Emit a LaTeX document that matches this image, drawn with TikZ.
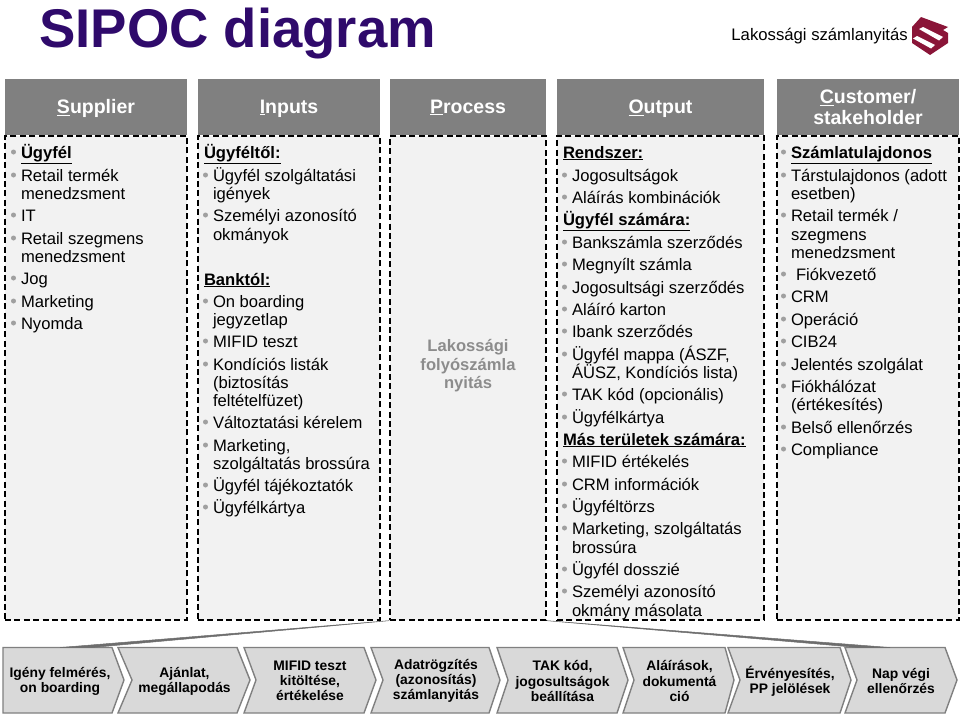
\documentclass[tikz,border=0pt]{standalone}
\usepackage{fontspec}
\setmainfont{Liberation Sans}
\definecolor{titlec}{HTML}{2F0A6B}
\definecolor{hdrc}{HTML}{808080}
\definecolor{bodyc}{HTML}{F2F2F2}
\definecolor{chevc}{HTML}{D9D9D9}
\definecolor{bulc}{HTML}{A0A0A0}
\definecolor{logoc}{HTML}{8A1538}
\newcounter{tn}
\newcommand{\bodyfont}{\fontsize{16.6}{18}\selectfont}
\newcommand{\txtline}[3]{\stepcounter{tn}\node[txt] (t\arabic{tn}) at (#1,#2+6) {#3};}
\newcommand{\blt}[3]{\fill[bulc] (#1-7.5,#2) circle (2.5pt);\txtline{#1}{#2}{#3}}
\newcommand{\hdg}[3]{\txtline{#1}{#2}{\textbf{\underline{#3}}}}
\newcommand{\chev}[6]{% left notch shoulder tip name text
  \path[chevst] (#1,647.5) -- (#3,647.5) -- (#4,680) -- (#3,713) -- (#1,713) -- (#2,680) -- cycle;
  \node[chevt] (#5) at ({(#2+#3)/2},681) {#6};}
\tikzset{
  txt/.style={anchor=base west,inner sep=0pt,outer sep=0pt,font=\bodyfont,text=black},
  hdr/.style={fill=hdrc,inner sep=0pt,minimum height=56pt,text=white,
    font=\fontsize{19.5}{21}\selectfont\bfseries},
  hdrone/.style={hdr,text height=16pt,text depth=3.5pt},
  bodybox/.style={fill=bodyc,draw=black,line width=1.3pt,dash pattern=on 6pt off 3.4pt,inner sep=0pt,minimum height=484pt},
  chevst/.style={fill=chevc,draw=hdrc,line width=1.4pt,line join=miter},
  chevt/.style={inner sep=0pt,align=center,text=black,font=\fontsize{13.85}{15.2}\selectfont\bfseries},
  wedge/.style={fill=hdrc!85!black,draw=hdrc!85!black,line width=.5pt}
}
\begin{document}
\begin{tikzpicture}[x=1pt,y=-1pt]
\useasboundingbox (0,0) rectangle (960,716);
\node[anchor=base west,inner sep=0pt,text=titlec,font=\fontsize{54.5}{60}\selectfont\bfseries] (title) at (39,47) {SIPOC diagram};
\node[anchor=base east,inner sep=0pt,font=\fontsize{16.7}{18}\selectfont] (sub) at (908,40) {Lakossági számlanyitás};
% logo
\fill[logoc] (921,17) -- (948,27) -- (943,30) -- (948,33) -- (948,43) -- (930,55) -- (912,43) -- (912,27) -- cycle;
\fill[white] (919,29) -- (923,27) -- (943,37) -- (939,40.5) -- cycle;
\fill[white] (913,38.5) -- (917,36) -- (935,45) -- (931,48.5) -- cycle;
% headers
\node[hdrone,minimum width=182pt] (hS) at (96,107) {\underline{S}upplier};
\node[hdrone,minimum width=182pt] (hI) at (289,107) {\underline{I}nputs};
\node[hdrone,minimum width=156pt] (hP) at (468,107) {\underline{P}rocess};
\node[hdrone,minimum width=207pt] (hO) at (660.5,107) {\underline{O}utput};
\node[hdr,align=center,minimum width=182pt] (hC) at (868,107) {\underline{C}ustomer/\\stakeholder};
% bodies
\node[bodybox,minimum width=182pt] (bS) at (96,378) {};
\node[bodybox,minimum width=182pt] (bI) at (289,378) {};
\node[bodybox,minimum width=156pt] (bP) at (468,378) {};
\node[bodybox,minimum width=207pt] (bO) at (660.5,378) {};
\node[bodybox,minimum width=182pt] (bC) at (868,378) {};
% supplier
\blt{21}{152}{\textbf{\underline{Ügyfél}}}
\blt{21}{175}{Retail termék}
\txtline{21}{193}{menedzsment}
\blt{21}{215}{IT}
\blt{21}{238}{Retail szegmens}
\txtline{21}{256}{menedzsment}
\blt{21}{278}{Jog}
\blt{21}{301}{Marketing}
\blt{21}{323}{Nyomda}
% inputs
\hdg{204}{152}{Ügyféltől:}
\blt{213}{175}{Ügyfél szolgáltatási}
\txtline{213}{193}{igények}
\blt{213}{215}{Személyi azonosító}
\txtline{213}{234}{okmányok}
\hdg{204}{279}{Banktól:}
\blt{213}{301}{On boarding}
\txtline{213}{319}{jegyzetlap}
\blt{213}{341}{MIFID teszt}
\blt{213}{364}{Kondíciós listák}
\txtline{213}{382}{(biztosítás}
\txtline{213}{400}{feltételfüzet)}
\blt{213}{422}{Változtatási kérelem}
\blt{213}{445}{Marketing,}
\txtline{213}{463}{szolgáltatás brossúra}
\blt{213}{485}{Ügyfél tájékoztatók}
\blt{213}{507}{Ügyfélkártya}
% process
\node[inner sep=0pt,align=center,text=black!45,font=\fontsize{16.6}{18.5}\selectfont\bfseries] (proc) at (468,366) {Lakossági\\folyószámla\\nyitás};
% output
\hdg{563}{152}{Rendszer:}
\blt{572}{175}{Jogosultságok}
\blt{572}{197}{Aláírás kombinációk}
\hdg{563}{219}{Ügyfél számára:}
\blt{572}{242}{Bankszámla szerződés}
\blt{572}{264}{Megnyílt számla}
\blt{572}{287}{Jogosultsági szerződés}
\blt{572}{309}{Aláíró karton}
\blt{572}{331}{Ibank szerződés}
\blt{572}{354}{Ügyfél mappa (ÁSZF,}
\txtline{572}{372}{ÁÜSZ, Kondíciós lista)}
\blt{572}{394}{TAK kód (opcionális)}
\blt{572}{417}{Ügyfélkártya}
\hdg{563}{439}{Más területek számára:}
\blt{572}{461}{MIFID értékelés}
\blt{572}{484}{CRM információk}
\blt{572}{506}{Ügyféltörzs}
\blt{572}{528}{Marketing, szolgáltatás}
\txtline{572}{547}{brossúra}
\blt{572}{569}{Ügyfél dosszié}
\blt{572}{591}{Személyi azonosító}
\txtline{572}{610}{okmány másolata}
% customer
\blt{791}{152}{\textbf{\underline{Számlatulajdonos}}}
\blt{791}{175}{Társtulajdonos (adott}
\txtline{791}{193}{esetben)}
\blt{791}{215}{Retail termék /}
\txtline{791}{234}{szegmens}
\txtline{791}{252}{menedzsment}
\fill[bulc] (783.5,274) circle (2.5pt);\txtline{796}{274}{Fiókvezető}
\blt{791}{296}{CRM}
\blt{791}{319}{Operáció}
\blt{791}{341}{CIB24}
\blt{791}{364}{Jelentés szolgálat}
\blt{791}{386}{Fiókhálózat}
\txtline{791}{404}{(értékesítés)}
\blt{791}{427}{Belső ellenőrzés}
\blt{791}{449}{Compliance}
% chevrons
\path[chevst] (3,647.5) -- (112,647.5) -- (124,680) -- (112,713) -- (3,713) -- cycle;
\node[chevt] (c1) at (60,681) {Igény felmérés,\\on boarding};
\chev{118}{132}{237}{250}{c2}{Ajánlat,\\megállapodás}
\chev{244}{256}{364}{376}{c3}{MIFID teszt\\kitöltése,\\értékelése}
\chev{371}{383}{489}{500}{c4}{Adatrögzítés\\(azonosítás)\\számlanyitás}
\chev{497}{508}{617}{628}{c5}{TAK kód,\\jogosultságok\\beállítása}
\chev{623}{634}{725}{734}{c6}{Aláírások,\\dokumentá\\ció}
\chev{728}{740}{840}{851}{c7}{Érvényesítés,\\PP jelölések}
\chev{845}{857}{945}{957}{c8}{Nap végi\\ellenőrzés}
% zoom wedges
\coordinate (zl) at (60,647.5);
\coordinate (zll) at (92,647.5);
\coordinate (zr) at (890,647.5);
\coordinate (zrr) at (858,647.5);
\path[wedge] (bP.south west) -- (zl) -- (zll) -- cycle;
\path[wedge] (bP.south east) -- (zr) -- (zrr) -- cycle;
\end{tikzpicture}
\end{document}
